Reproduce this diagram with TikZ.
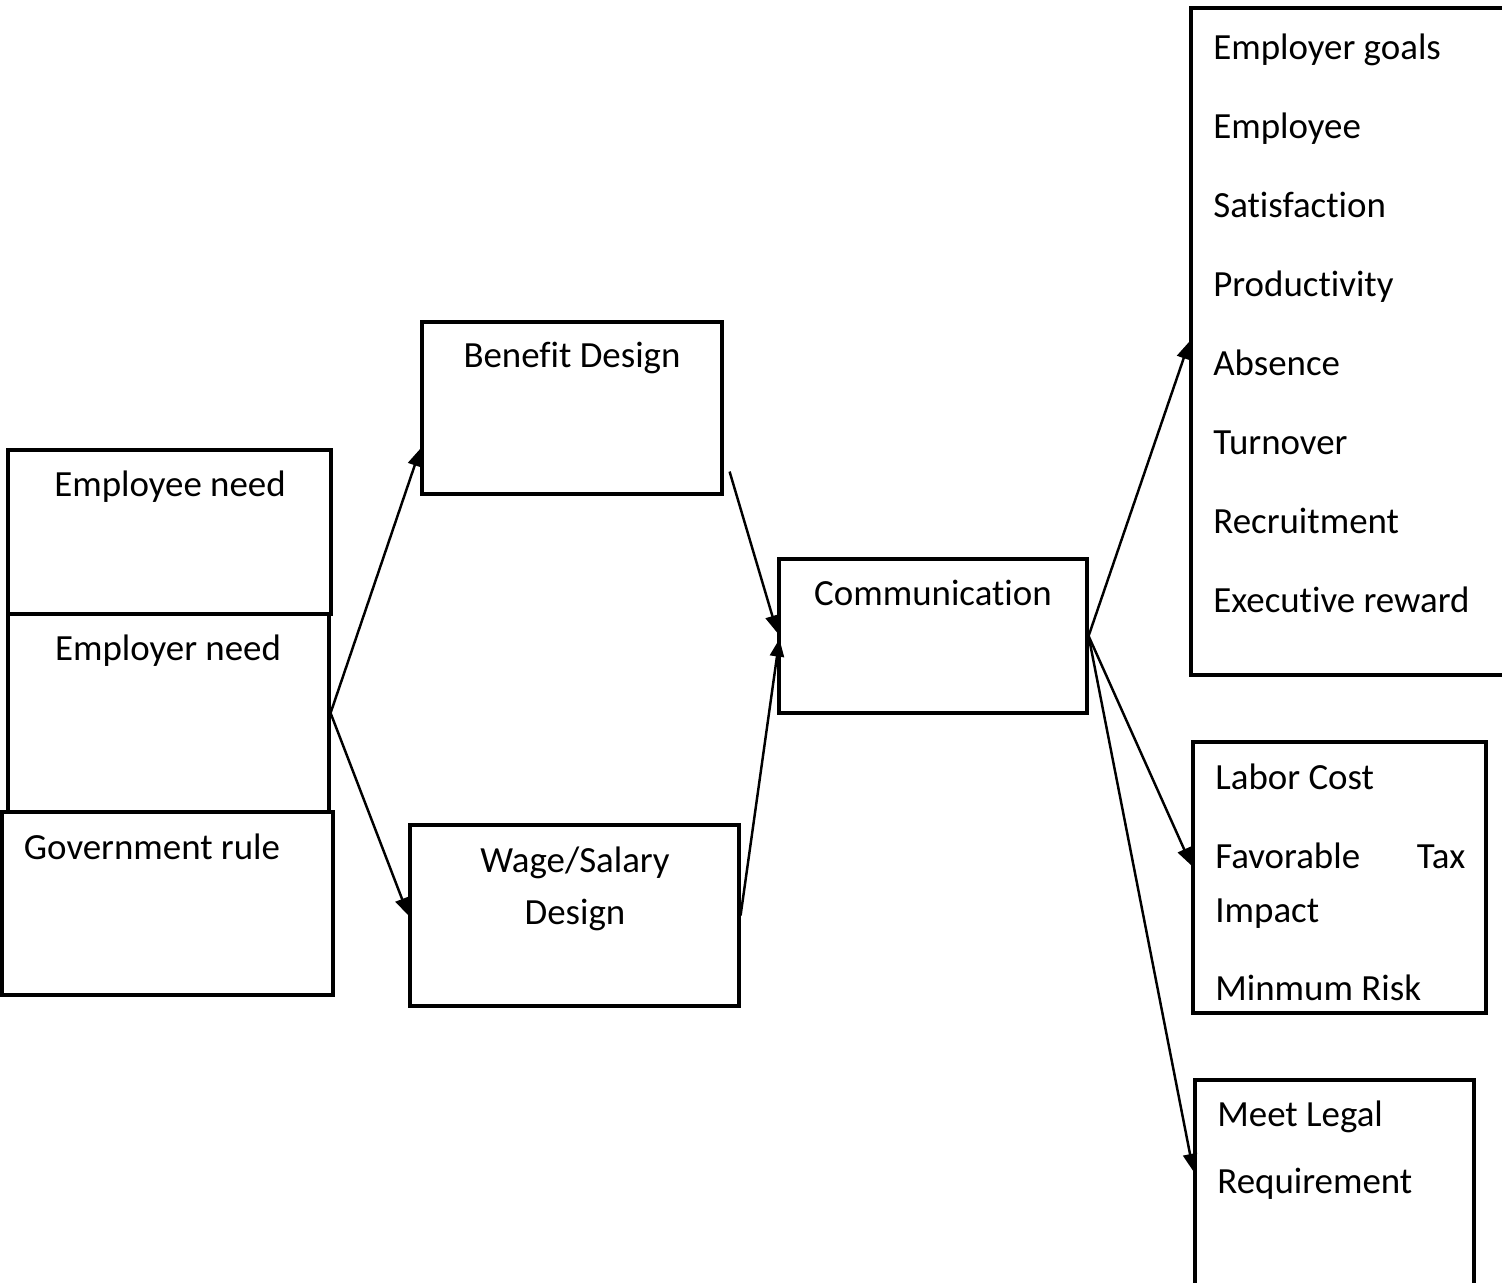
\documentclass[tikz,border=0pt]{standalone}
\usepackage{fontspec}
\setmainfont{Carlito}[Ligatures={NoCommon,NoRare}]
\usetikzlibrary{arrows.meta,calc,fit}

\tikzset{
  box/.style={draw, line width=1.8pt, inner sep=0pt},
  txt/.style={inner sep=0pt, font=\fontsize{21}{25}\selectfont},
  link/.style={line width=1.4pt, -{Triangle[length=10pt,width=8pt]}}
}

\begin{document}
\begin{tikzpicture}[x=0.02cm, y=-0.02cm]
    \clip (0,0) rectangle (1502,1283);

    % left column
    \node[box, fit={(8,450) (331,614)}] (empneed) {};
    \node[box, fit={(8,614) (329,812)}] (emrneed) {};
    \node[box, fit={(2,812) (333,995)}] (govrule) {};
    \node[txt, anchor=base] (tempneed) at (170,497) {Employee need};
    \node[txt, anchor=base] (temrneed) at (168,661) {Employer need};
    \node[txt, anchor=base] (tgovrule) at (152,859) {Government rule};

    % design boxes
    \node[box, fit={(422,322) (722,494)}] (benefit) {};
    \node[box, fit={(410,825) (739,1006)}] (wage) {};
    \node[txt, anchor=base] (tbenefit) at (572,368) {Benefit Design};
    \node[txt, anchor=base] (twage1) at (575,872) {Wage/Salary};
    \node[txt, anchor=base] (twage2) at (575,924) {Design};

    \node[box, fit={(779,559) (1087,713)}] (comm) {};
    \node[txt, anchor=base] (tcomm) at (933,606) {Communication};

    % goal boxes
    \node[box, fit={(1191,8) (1520,675)}] (goals) {};
    \foreach \t [count=\i] in {Employer goals, Employee, Satisfaction,
        Productivity, Absence, Turnover, Recruitment, Executive reward}
        \node[txt, anchor=base west] (goal\i) at (1213,{60+78.9*(\i-1)}) {\t};

    \node[box, fit={(1193,742) (1486,1013)}] (cost) {};
    \node[txt, anchor=base west] (tcost1) at (1215,789) {Labor Cost};
    \node[txt, anchor=base west] (tcost2) at (1215,868) {\hbox to 5cm{Favorable\hfill Tax}};
    \node[txt, anchor=base west] (tcost3) at (1215,922) {Impact};
    \node[txt, anchor=base west] (tcost4) at (1215,1000) {Minmum Risk};

    \node[box, fit={(1195,1080) (1474,1320)}] (legal) {};
    \node[txt, anchor=base west] (tlegal1) at (1217,1126) {Meet Legal};
    \node[txt, anchor=base west] (tlegal2) at (1217,1193) {Requirement};

    % arrows
    \draw[link] (emrneed.east) -- ($(benefit.south west)+(0,-47)$);
    \draw[link] (emrneed.east) -- (wage.west);
    \draw[link] ($(benefit.south east)+(6,-24)$) -- ($(comm.west)+(0,-3)$);
    \draw[link] (wage.east) -- ($(comm.west)+(2,3)$);
    \draw[link] (comm.east) -- (goals.west);
    \draw[link] (comm.east) -- ($(cost.west)+(0,-12)$);
    \draw[link] (comm.east) -- ($(legal.north west)+(0,93)$);
\end{tikzpicture}
\end{document}
